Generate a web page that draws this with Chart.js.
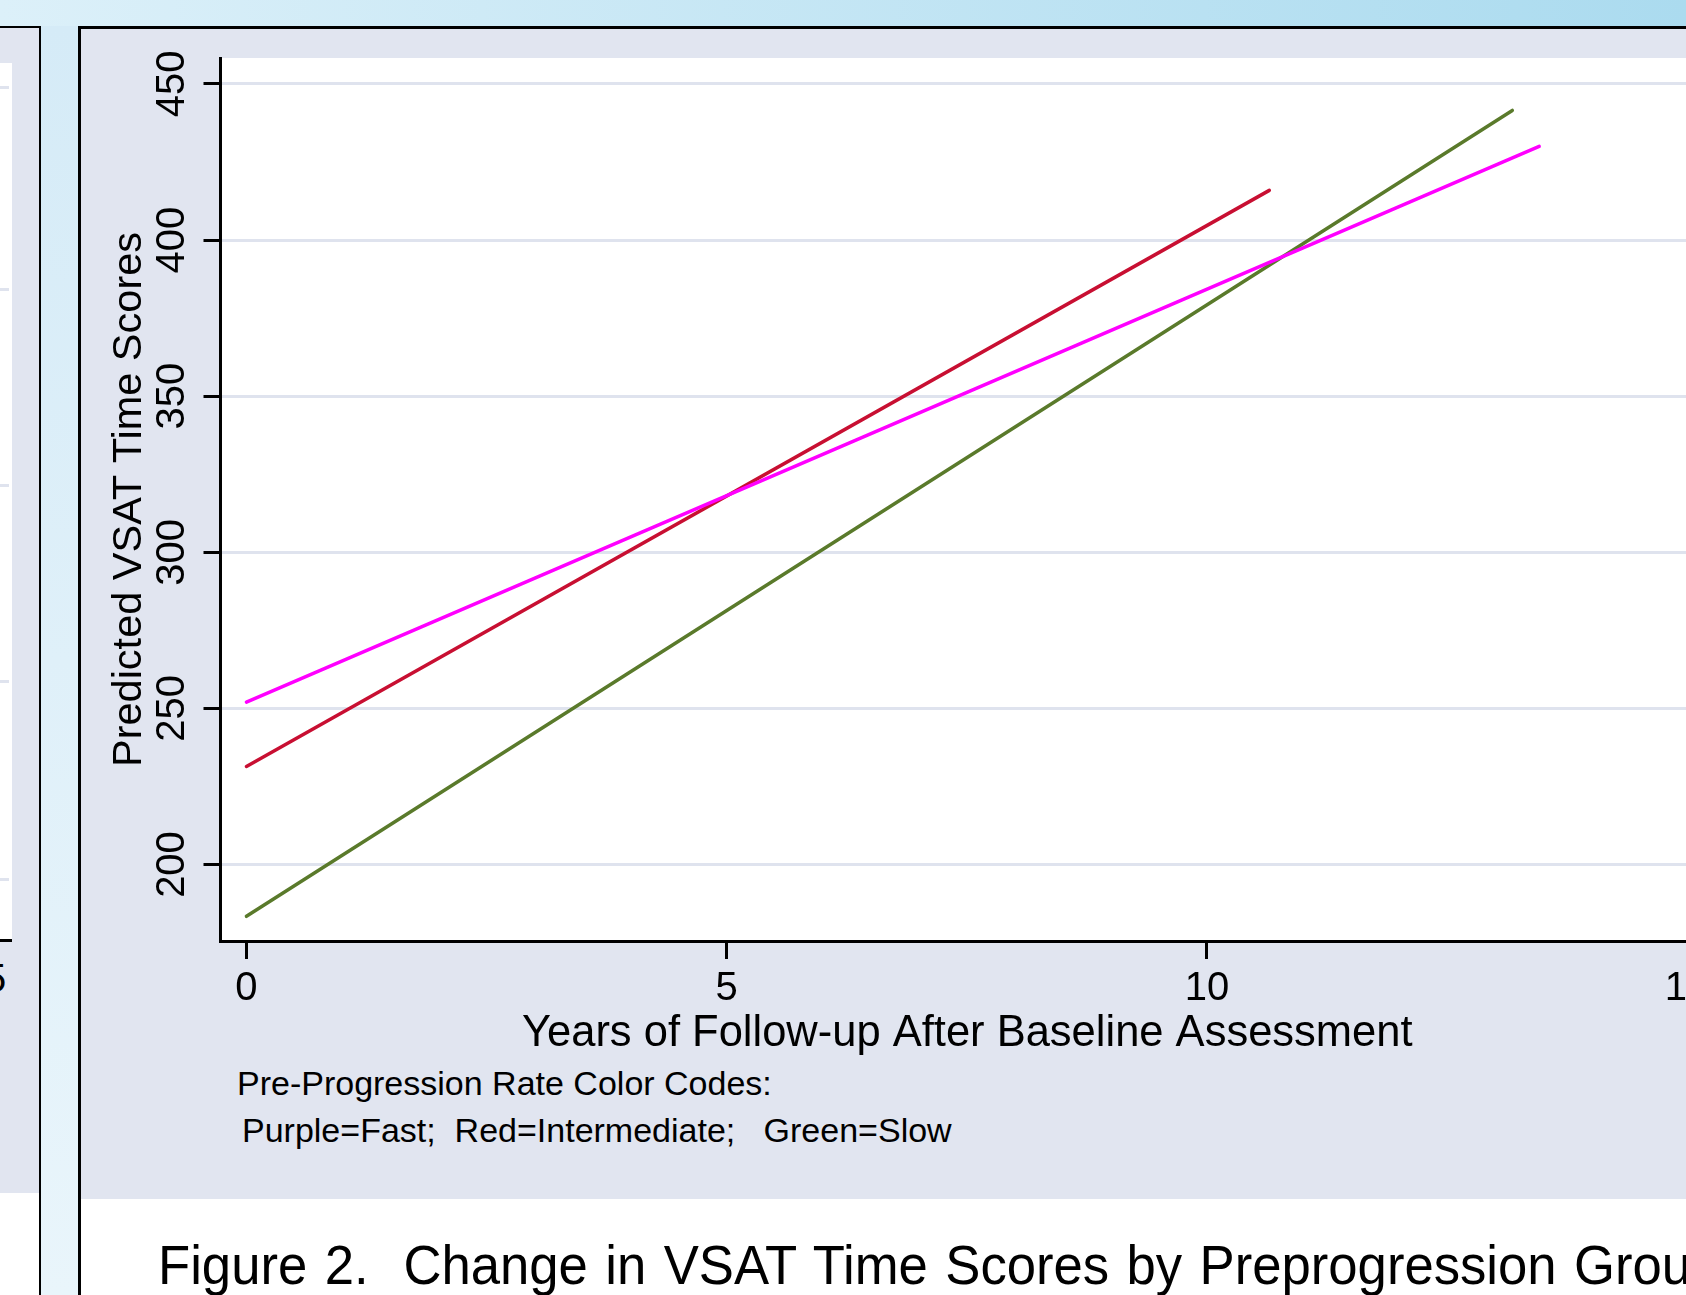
<!DOCTYPE html>
<html>
<head>
<meta charset="utf-8">
<script src="https://cdn.jsdelivr.net/npm/chart.js@4.4.1/dist/chart.umd.min.js"></script>
<style>
    html, body { margin: 0; padding: 0; width: 1686px; height: 1295px; overflow: hidden; background: #fff; }
    body { position: relative; font-family: "Liberation Sans", Arial, sans-serif; color: #000; }
    .abs { position: absolute; }
    #topBand { left: 0; top: 0; width: 1686px; height: 26px; background: linear-gradient(90deg, #dcf0f9, #abdbef); }
    #gapBand { left: 41px; top: 26px; width: 37px; height: 1269px; background: linear-gradient(180deg, #d5ebf7, #e9f5fb); }
    #leftPanel { left: 0; top: 26px; width: 39px; height: 1269px; border-top: 2px solid #000; border-right: 2px solid #000; background: #fff; overflow: hidden; }
    #leftGrey { left: 0; top: 0; width: 39px; height: 1165px; background: #e1e5f0; }
    #leftPlot { left: 0; top: 35px; width: 12px; height: 876px; background: #fff; border-bottom: 3px solid #000; }
    .leftGrid { position: absolute; left: 0; width: 9px; height: 3px; background: #dfe3ee; }
    #leftTick { left: -16px; top: 930px; font-size: 40px; line-height: 40px; }
    #mainPanel { left: 78px; top: 26px; width: 1608px; height: 1269px; border-left: 3px solid #000; border-top: 3px solid #000; background: #fff; }
    #mainGrey { left: 0; top: 0; width: 1608px; height: 1170px; background: #e1e5f0; }
    #chartBox { left: 0; top: 0; width: 1740px; height: 1060px; }
    .note { position: absolute; white-space: pre; font-size: 34px; line-height: 34px; }
    #caption { left: 158px; top: 1237px; font-size: 56px; line-height: 56px; white-space: pre; word-spacing: 3px; transform: scaleX(0.94); transform-origin: left center; }
</style>
</head>
<body>
<div id="topBand" class="abs"></div>
<div id="gapBand" class="abs"></div>
<div id="leftPanel" class="abs">
    <div id="leftGrey" class="abs"></div>
    <div id="leftPlot" class="abs">
        <div class="leftGrid" style="top:23px"></div>
        <div class="leftGrid" style="top:225px"></div>
        <div class="leftGrid" style="top:421px"></div>
        <div class="leftGrid" style="top:617px"></div>
        <div class="leftGrid" style="top:815px"></div>
    </div>
    <div id="leftTick" class="abs">5</div>
</div>
<div id="mainPanel" class="abs">
    <div id="mainGrey" class="abs"></div>
</div>
<div id="chartBox" class="abs"><canvas id="vsatChart" width="1740" height="1060"></canvas></div>
<div class="note" style="left:237px; top:1066px;">Pre-Progression Rate Color Codes:</div>
<div class="note" style="left:242px; top:1113px;">Purple=Fast;  Red=Intermediate;   Green=Slow</div>
<div id="caption" class="abs">Figure 2.  Change in VSAT Time Scores by Preprogression Group</div>

<script>
// ---------- Data ----------
const xTicks = [0, 5, 10, 15];
const yTicks = [200, 250, 300, 350, 400, 450];

const groupNames = ["Fast", "Intermediate", "Slow"];
const groupColors = ["#ff00ff", "#c80f32", "#5a7a2b"];

// predicted lines: start and end of follow-up
const fastYears = [0, 13.46];
const fastScores = [252.0, 430.0];
const interYears = [0, 10.65];
const interScores = [231.4, 415.9];
const slowYears = [0, 13.18];
const slowScores = [183.4, 441.5];

const xMin = -0.27, xMax = 15.28;
const yMin = 175.5, yMax = 458.3;

function toPoints(xs, ys) {
    return xs.map((x, i) => ({ x: x, y: ys[i] }));
}

const seriesYears = [fastYears, interYears, slowYears];
const seriesScores = [fastScores, interScores, slowScores];

const datasets = groupNames.map((name, i) => ({
    label: name,
    data: toPoints(seriesYears[i], seriesScores[i]),
    borderColor: groupColors[i],
    borderWidth: 3.5,
    borderCapStyle: "round",
    pointRadius: 0,
    tension: 0,
    fill: false
}));

// ---------- White plot region ----------
const plotBg = {
    id: "plotBg",
    beforeDraw(chart) {
        const { ctx, chartArea: a } = chart;
        ctx.save();
        ctx.fillStyle = "#ffffff";
        ctx.fillRect(a.left, a.top, a.right - a.left, a.bottom - a.top);
        ctx.restore();
    }
};

const font = "'Liberation Sans', Arial, sans-serif";

new Chart(document.getElementById("vsatChart"), {
    type: "line",
    data: { datasets: datasets },
    plugins: [plotBg],
    options: {
        responsive: false,
        animation: false,
        layout: { padding: { left: 100, top: 58, right: 26, bottom: 0 } },
        plugins: { legend: { display: false }, tooltip: { enabled: false } },
        scales: {
            x: {
                type: "linear",
                min: xMin,
                max: xMax,
                afterBuildTicks: s => { s.ticks = xTicks.map(v => ({ value: v })); },
                afterFit: s => { s.height = 119; },
                grid: { drawOnChartArea: false, tickColor: "#000", tickWidth: 3, tickLength: 18 },
                border: { display: true, color: "#000", width: 3 },
                ticks: { color: "#000", padding: 6, font: { family: font, size: 40, lineHeight: 1.2 } },
                title: {
                    display: true,
                    text: "Years of Follow-up After Baseline Assessment",
                    color: "#000",
                    font: { family: font, size: 43.5, lineHeight: 1.2 },
                    padding: { top: 0, bottom: 0 }
                }
            },
            y: {
                type: "linear",
                min: yMin,
                max: yMax,
                afterBuildTicks: s => { s.ticks = yTicks.map(v => ({ value: v })); },
                afterFit: s => { s.width = 120.5; },
                grid: { color: "#dfe3ee", lineWidth: 3, tickColor: "#000", tickWidth: 3, tickLength: 17 },
                border: { display: true, color: "#000", width: 3 },
                ticks: {
                    color: "#000",
                    padding: -3,
                    minRotation: 90,
                    maxRotation: 90,
                    crossAlign: "center",
                    font: { family: font, size: 40, lineHeight: 1.2 }
                },
                title: {
                    display: true,
                    text: "Predicted VSAT Time Scores",
                    color: "#000",
                    font: { family: font, size: 41.5, lineHeight: 1 },
                    padding: { top: 9, bottom: 0 }
                }
            }
        }
    }
});
</script>
</body>
</html>
